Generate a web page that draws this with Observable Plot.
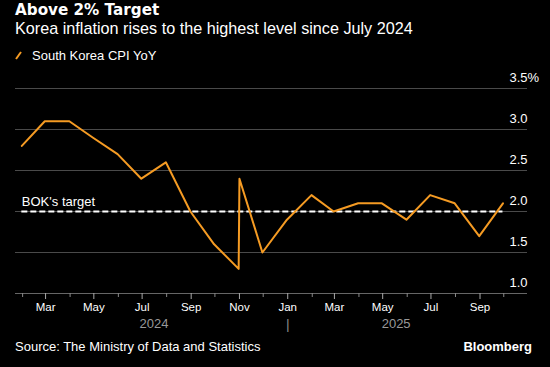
<!DOCTYPE html>
<html><head><meta charset="utf-8">
<script src="https://cdn.jsdelivr.net/npm/d3@7"></script>
<script src="https://cdn.jsdelivr.net/npm/@observablehq/plot@0.6"></script>
<style>
html,body{margin:0;padding:0;background:#000;width:550px;height:367px;overflow:hidden;font-family:"Liberation Sans",Arial,sans-serif;color:#fff}
#head{position:relative;height:70px}
#title{position:absolute;left:15px;top:1px;font-family:"DejaVu Sans",sans-serif;font-weight:bold;font-size:15.2px}
#sub{position:absolute;left:15px;top:19px;font-size:16.2px}
#leg{position:absolute;left:15px;top:48px;font-size:13px;display:flex;align-items:center}
#leg svg{margin-right:10px}
#foot{position:relative;height:35px}
#src{position:absolute;left:15px;top:7px;font-size:13px}
#bb{position:absolute;right:18px;top:7px;font-size:13px;font-weight:bold}
</style></head><body>
<div id="head">
<div id="title">Above 2% Target</div>
<div id="sub">Korea inflation rises to the highest level since July 2024</div>
<div id="leg"><svg width="7" height="9"><line x1="1" y1="8" x2="6" y2="1" stroke="#f59b23" stroke-width="2"/></svg>South Korea CPI YoY</div>
</div>
<div id="chart"></div>
<div id="foot"><div id="src">Source: The Ministry of Data and Statistics</div><div id="bb">Bloomberg</div></div>
<script>
const dates = ["2024-01-31","2024-02-29","2024-03-31","2024-04-30","2024-05-31","2024-06-30","2024-07-31","2024-08-31","2024-09-30","2024-10-31","2024-11-01","2024-11-30","2024-12-31","2025-01-31","2025-02-28","2025-03-31","2025-04-30","2025-05-31","2025-06-30","2025-07-31","2025-08-31","2025-09-30"];
const cpi = [2.8,3.1,3.1,2.9,2.7,2.4,2.6,2.0,1.6,1.3,2.4,1.5,1.9,2.2,2.0,2.1,2.1,1.9,2.2,2.1,1.7,2.1];
const target = 2.0;
const targetLabel = "BOK's target";
const yTicks = [1.0,1.5,2.0,2.5,3.0,3.5];
const monthLabels = ["Mar","May","Jul","Sep","Nov","Jan","Mar","May","Jul","Sep"];
const years = ["2024","2025"];
const yearLabelDates = ["2024-07-16","2025-05-18"];
const yearSeparators = ["2025-01-01"];

const parse = d3.utcParse("%Y-%m-%d");
const data = dates.map((d,i)=>({date:parse(d), v:cpi[i]}));
const xDomain = [new Date(Date.UTC(2024,0,23)), new Date(Date.UTC(2025,9,31))];
const majorTicks = d3.utcMonth.range(new Date(Date.UTC(2024,2,1)), new Date(Date.UTC(2025,9,1)), 2);
const minorTicks = d3.utcMonth.range(new Date(Date.UTC(2024,1,1)), new Date(Date.UTC(2025,10,1)), 2);
const yearData = years.map((y,i)=>({date:parse(yearLabelDates[i]), label:y}));
const sepData = yearSeparators.map(parse);
const first = data[0].date, last = data[data.length-1].date;
const font = "'Liberation Sans', Arial, sans-serif";

const chart = Plot.plot({
  width:550, height:262,
  marginLeft:15, marginRight:23, marginTop:18, marginBottom:39,
  style:{background:"#000", color:"#fff", fontFamily:font, fontSize:"12px"},
  x:{type:"utc", domain:xDomain, axis:null},
  y:{domain:[1.0,3.5], axis:null},
  marks:[
    Plot.ruleY(yTicks.slice(1), {stroke:"#4a4a4a", strokeWidth:1}),
    Plot.ruleY([1.0], {stroke:"#666", strokeWidth:1}),
    Plot.text(yTicks, {x:()=>xDomain[1], y:d=>d, text:d=>d.toFixed(1)+(d===3.5?"%":""), textAnchor:"start", dx:-18, dy:-11, fill:"#fff", fontSize:13}),
    Plot.axisX(minorTicks, {anchor:"bottom", tickSize:4, tickFormat:()=>"", stroke:"#888"}),
    Plot.axisX(majorTicks, {anchor:"bottom", tickSize:6, tickPadding:3, tickFormat:(d,i)=>monthLabels[i], stroke:"#aaa", fill:"#fff", fontSize:11.5}),
    Plot.axisX(sepData, {anchor:"bottom", tickSize:0, tickFormat:()=>"|", dy:18, fill:"#888", fontSize:14}),
    Plot.text(yearData, {x:"date", y:1.0, text:"label", dy:30, fill:"#999", fontSize:13}),
    Plot.ruleY([target], {x1:first, x2:last, stroke:"#fff", strokeWidth:2, strokeDasharray:"6,3"}),
    Plot.text([targetLabel], {x:first, y:target, text:d=>d, textAnchor:"start", dy:-10, fill:"#fff", fontSize:13}),
    Plot.line(data, {x:"date", y:"v", stroke:"#f59b23", strokeWidth:2})
  ]
});
document.getElementById("chart").append(chart);
</script>
</body></html>
